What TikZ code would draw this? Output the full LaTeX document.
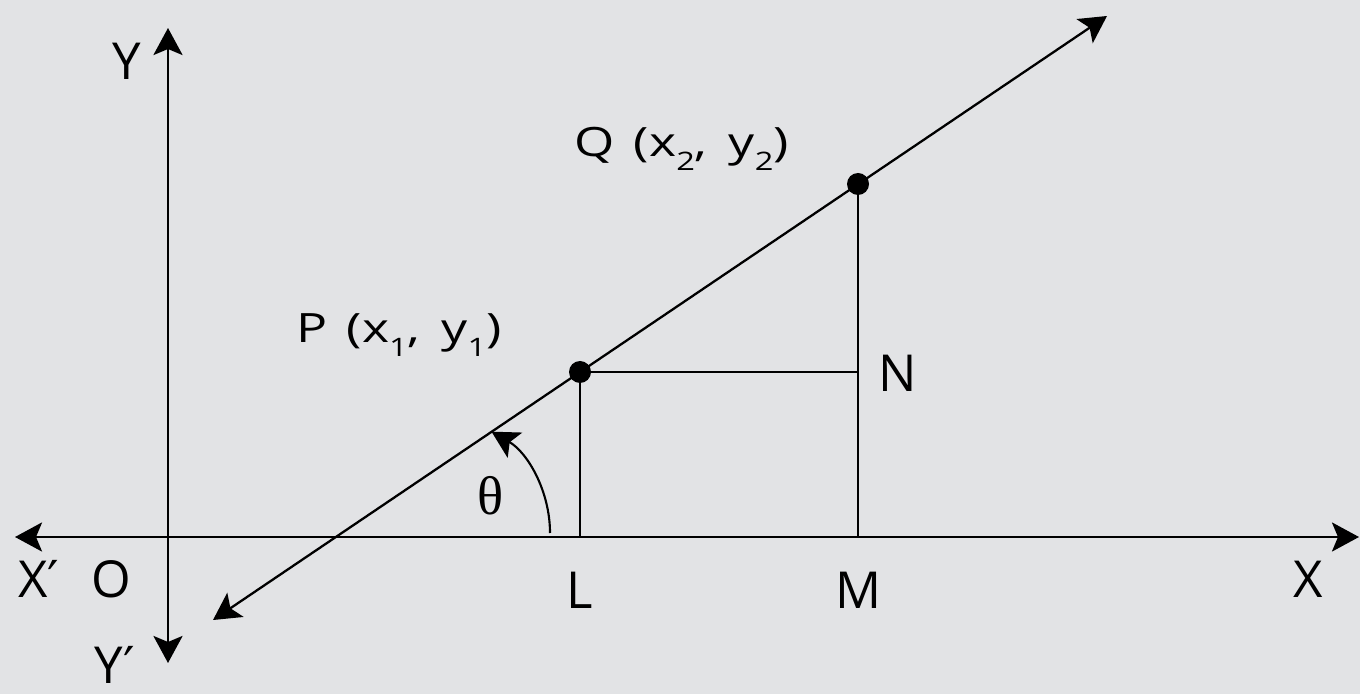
\documentclass[tikz,border=0pt]{standalone}
\usepackage{fontspec}
\setmainfont{Open Sans}
\newfontfamily\labelfont[FakeStretch=1.28]{Open Sans}
\newfontfamily\greekfont{Liberation Serif}
\newfontfamily\primefont{DejaVu Sans}
\usepackage{tikz}
\usetikzlibrary{arrows.meta}
\definecolor{marble}{RGB}{226,227,229}
\newcommand{\idx}[1]{\raisebox{-7.6pt}{\fontsize{14.5}{14.5}\selectfont #1}}
\newcommand{\prm}{{\primefont ′}}
\tikzset{
    axis/.style = {line width=1.7pt},
    line/.style = {line width=1.3pt},
    dot/.style = {circle, fill=black, minimum size=0.44cm, inner sep=0pt},
    axislabel/.style = {anchor=base, inner sep=0pt, font=\fontsize{29}{32}\selectfont},
    ptlabel/.style = {anchor=base, inner sep=0pt, font=\labelfont\fontsize{23}{26}\selectfont}
}

\begin{document}
\begin{tikzpicture}[>={Stealth[length=0.54cm, width=0.58cm, inset=0.12cm]}]
    \fill [marble] (0,0) rectangle (27.2,13.88);
    \useasboundingbox (0,0) rectangle (27.2,13.88);

    % axes
    \coordinate (O) at (3.36,3.14);
    \coordinate (xl) at (0.30,3.14);
    \coordinate (xr) at (27.18,3.14);
    \coordinate (yt) at (3.36,13.32);
    \coordinate (yb) at (3.36,0.62);
    \draw [axis, <->] (xl) -- (xr);
    \draw [axis, <->] (yb) -- (yt);

    % line through P and Q
    \coordinate (lo) at (4.26,1.48);
    \coordinate (hi) at (22.14,13.56);
    \draw [line, <->] (lo) -- (hi);
    \node [dot] (P) at (11.6,6.44) {};
    \node [dot] (Q) at (17.16,10.2) {};
    \coordinate (L) at (11.6,3.14);
    \coordinate (M) at (17.16,3.14);
    \coordinate (N) at (17.16,6.44);
    \draw [line] (P) -- (L);
    \draw [line] (Q) -- (M);
    \draw [line] (P) -- (N);

    % angle
    \coordinate (a0) at (11.0,3.22);
    \draw [line width=1.2pt, ->] (a0) arc [start angle=0, end angle=60, radius=2.34];

    % labels
    \node [axislabel] (lblY) at (2.54,12.28) {Y};
    \node [axislabel] (lblYp) at (2.30,0.22) {Y\prm};
    \node [axislabel] (lblXp) at (0.77,1.94) {X\prm};
    \node [axislabel] (lblO) at (2.23,1.94) {O};
    \node [axislabel] (lblX) at (26.16,1.94) {X};
    \node [axislabel] (lblL) at (11.6,1.72) {L};
    \node [axislabel] (lblM) at (17.16,1.72) {M};
    \node [axislabel] (lblN) at (17.96,6.04) {N};
    \node [axislabel, font=\greekfont\fontsize{31}{34}\selectfont] (lblT) at (9.82,3.60) {θ};
    \node [ptlabel] (lblP) at (7.98,7.02) {P\hspace{11pt}(x\idx{1},\hspace{12pt}y\idx{1})};
    \node [ptlabel] (lblQ) at (13.63,10.74) {Q\hspace{11pt}(x\idx{2},\hspace{12pt}y\idx{2})};
\end{tikzpicture}
\end{document}
